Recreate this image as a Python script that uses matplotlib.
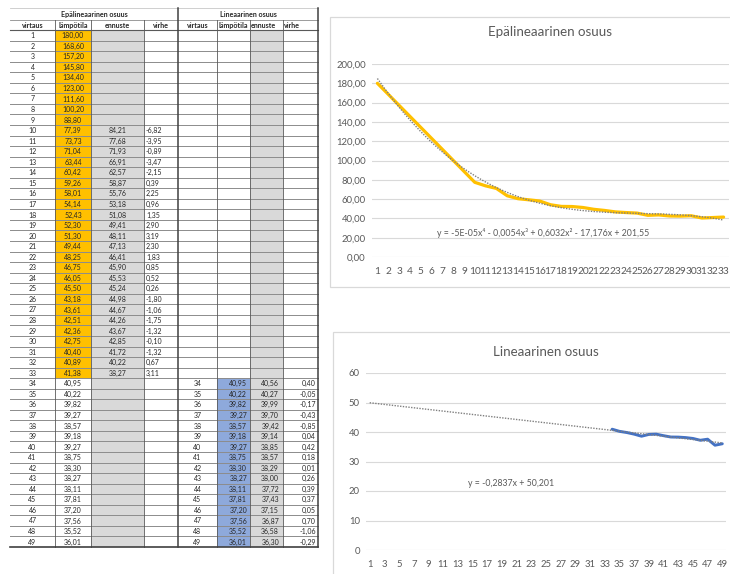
import matplotlib
matplotlib.use("Agg")
import matplotlib.pyplot as plt
from matplotlib.patches import Rectangle
import numpy as np

plt.rcParams['font.family'] = ['Lato', 'DejaVu Sans']

# measured flow / temperature table
virtaus = list(range(1, 50))
lampotila = [180.00, 168.60, 157.20, 145.80, 134.40, 123.00, 111.60, 100.20, 88.80,
             77.39, 73.73, 71.04, 63.44, 60.42, 59.26, 58.01, 54.14, 52.43, 52.30,
             51.30, 49.44, 48.25, 46.75, 46.05, 45.50, 43.18, 43.61, 42.51, 42.36,
             42.75, 40.40, 40.89, 41.38,
             40.95, 40.22, 39.82, 39.27, 38.57, 39.18, 39.27, 38.75, 38.30, 38.27,
             38.11, 37.81, 37.20, 37.56, 35.52, 36.01]
n_epalin = 33   # rows 1..33 belong to the non-linear part

# forecasts and errors, non-linear part (rows 10..33)
ennuste_epalin = [84.21, 77.68, 71.93, 66.91, 62.57, 58.87, 55.76, 53.18, 51.08, 49.41,
                  48.11, 47.13, 46.41, 45.90, 45.53, 45.24, 44.98, 44.67, 44.26, 43.67,
                  42.85, 41.72, 40.22, 38.27]
virhe_epalin = [-6.82, -3.95, -0.89, -3.47, -2.15, 0.39, 2.25, 0.96, 1.35, 2.90,
                3.19, 2.30, 1.83, 0.85, 0.52, 0.26, -1.80, -1.06, -1.75, -1.32,
                -0.10, -1.32, 0.67, 3.11]
ennuste_start = 10

# forecasts and errors, linear part (rows 34..49)
ennuste_lin = [40.56, 40.27, 39.99, 39.70, 39.42, 39.14, 38.85, 38.57, 38.29, 38.00,
               37.72, 37.43, 37.15, 36.87, 36.58, 36.30]
virhe_lin = [0.40, -0.05, -0.17, -0.43, -0.85, 0.04, 0.42, 0.18, 0.01, 0.26,
             0.39, 0.37, 0.05, 0.70, -1.06, -0.29]

# Excel trendline coefficients (highest power first)
poly_coef = [-5e-05, -0.0054, 0.6032, -17.176, 201.55]
lin_coef = [-0.2837, 50.201]
poly_label = "y = -5E-05x\u2074 - 0,0054x\u00b3 + 0,6032x\u00b2 - 17,176x + 201,55"
lin_label = "y = -0,2837x + 50,201"

headers = ["virtaus", "lämpötila", "ennuste", "virhe"]

ORANGE = "#FFC000"
GREY_CELL = "#D9D9D9"
BLUE_CELL = "#8EA9DB"
TXT = "#262626"
AX_TXT = "#595959"
GRID = "#D9D9D9"

W, H = 730, 574


def fi(v):
    return f"{v:.2f}".replace(".", ",")


def px_box(x0, y0, x1, y1):
    return [x0 / W, 1 - y1 / H, (x1 - x0) / W, (y1 - y0) / H]


fig = plt.figure(figsize=(W / 100, H / 100), dpi=100)
bg = fig.add_axes([0, 0, 1, 1])
bg.set_xlim(0, W)
bg.set_ylim(H, 0)
bg.axis("off")

# ---- table -------------------------------------------------------------
cols_l = [10, 55, 91, 144, 178]
cols_r = [178, 217, 250, 283, 318]
top_title, top_head, top_rows = 8, 20, 30
row_h = 10.55
n_rows = len(virtaus)
bottom = top_rows + n_rows * row_h


def row_y(i):
    return top_rows + i * row_h


# cell fills
for i in range(n_rows):
    y = row_y(i)
    bg.add_patch(Rectangle((cols_l[2], y), cols_l[3] - cols_l[2], row_h, fc=GREY_CELL, ec="none"))
    bg.add_patch(Rectangle((cols_r[2], y), cols_r[3] - cols_r[2], row_h, fc=GREY_CELL, ec="none"))
    if i < n_epalin:
        bg.add_patch(Rectangle((cols_l[1], y), cols_l[2] - cols_l[1], row_h, fc=ORANGE, ec="none"))
    else:
        bg.add_patch(Rectangle((cols_r[1], y), cols_r[2] - cols_r[1], row_h, fc=BLUE_CELL, ec="none"))

# grid lines
bg.plot([cols_l[0], cols_r[-1]], [top_title, top_title], color="#C8C8C8", lw=0.6)
bg.plot([cols_l[0], cols_r[-1]], [top_head, top_head], color="#8C8C8C", lw=0.6)
for k in range(1, n_rows):
    y = row_y(k)
    bg.plot([cols_l[0], cols_r[-1]], [y, y], color="#8C8C8C", lw=0.7)
bg.plot([cols_l[0], cols_r[-1]], [top_rows, top_rows], color="#595959", lw=0.8)
for x in cols_l[1:-1] + cols_r[1:-1]:
    bg.plot([x, x], [top_head, bottom], color="#595959", lw=0.6)
for x in (cols_r[0], cols_r[-1]):
    bg.plot([x, x], [top_title, bottom], color="#404040", lw=1.1)
bg.plot([cols_l[0], cols_r[-1]], [bottom, bottom], color="#404040", lw=1.2)

fs_tab = 5.0
fs_head = 5.1
bg.text((cols_l[0] + cols_l[-1]) / 2, (top_title + top_head) / 2 + 0.5, "Epälineaarinen osuus",
        ha="center", va="center", fontsize=fs_head, fontweight="bold", color=TXT)
bg.text((cols_r[0] + cols_r[-1]) / 2, (top_title + top_head) / 2 + 0.5, "Lineaarinen osuus",
        ha="center", va="center", fontsize=fs_head, fontweight="bold", color=TXT)
for cols in (cols_l, cols_r):
    for j, h in enumerate(headers):
        if cols is cols_r and j > 0:
            bg.text(cols[j] + 1.2, (top_head + top_rows) / 2 + 0.5, h, ha="left", va="center",
                    fontsize=fs_head, fontweight="bold", color=TXT)
        else:
            bg.text((cols[j] + cols[j + 1]) / 2, (top_head + top_rows) / 2 + 0.5, h,
                    ha="center", va="center", fontsize=fs_head, fontweight="bold", color=TXT)

for i, v in enumerate(virtaus):
    yc = row_y(i) + row_h / 2 + 0.4
    bg.text((cols_l[0] + cols_l[1]) / 2, yc, str(v), ha="center", va="center", fontsize=fs_tab, color=TXT)
    bg.text((cols_l[1] + cols_l[2]) / 2, yc, fi(lampotila[i]), ha="center", va="center",
            fontsize=fs_tab, color=TXT)
    k = v - ennuste_start
    if 0 <= k < len(ennuste_epalin):
        bg.text((cols_l[2] + cols_l[3]) / 2, yc, fi(ennuste_epalin[k]), ha="center", va="center",
                fontsize=fs_tab, color=TXT)
        bg.text(cols_l[3] + 2, yc, fi(virhe_epalin[k]), ha="left", va="center",
                fontsize=fs_tab, color=TXT)
    k = i - n_epalin
    if k >= 0:
        bg.text((cols_r[0] + cols_r[1]) / 2, yc, str(v), ha="center", va="center", fontsize=fs_tab, color=TXT)
        bg.text(cols_r[2] - 3, yc, fi(lampotila[i]), ha="right", va="center", fontsize=fs_tab, color=TXT)
        bg.text(cols_r[3] - 4, yc, fi(ennuste_lin[k]), ha="right", va="center", fontsize=fs_tab, color=TXT)
        bg.text(cols_r[4] - 2, yc, fi(virhe_lin[k]), ha="right", va="center", fontsize=fs_tab, color=TXT)

# chart frames
bg.add_patch(Rectangle((330, 17), 420, 270, fc="white", ec="#D9D9D9", lw=0.9))
bg.add_patch(Rectangle((333, 332), 420, 260, fc="white", ec="#D9D9D9", lw=0.9))


def style_chart(ax):
    for s in ax.spines.values():
        s.set_visible(False)
    ax.grid(axis="y", color=GRID, lw=0.8)
    ax.set_axisbelow(True)
    ax.tick_params(length=0, colors=AX_TXT, labelsize=6.8)
    ax.tick_params(axis="y", pad=4.5)
    ax.tick_params(axis="x", pad=7)
    ax.set_facecolor("none")


# ---- non-linear chart -------------------------------------------------
x1 = np.array(virtaus[:n_epalin])
y1 = np.array(lampotila[:n_epalin])
ax1 = fig.add_axes(px_box(372, 64, 729, 257))
style_chart(ax1)
ax1.tick_params(axis="x", labelsize=7.3)
ax1.set_xlim(0.5, n_epalin + 0.5)
ax1.set_ylim(0, 200)
ax1.set_yticks(np.arange(0, 201, 20))
ax1.set_yticklabels([fi(t) for t in np.arange(0, 201, 20)])
ax1.set_xticks(x1)
ax1.set_xticklabels([str(v) for v in x1])
ax1.plot(x1, y1, color=ORANGE, lw=2.3, solid_capstyle="round", zorder=3)
xt = np.linspace(1, n_epalin, 200)
ax1.plot(xt, np.polyval(poly_coef, xt), color="#7F7F7F", lw=1.0, ls=(0, (1, 1)), zorder=4)
ax1.text(16.3, 25, poly_label, ha="center", va="center", fontsize=6.3, color=AX_TXT)
ax1.set_title("Epälineaarinen osuus", fontsize=9.6, color=AX_TXT, pad=20)

# ---- linear chart -----------------------------------------------------
x2 = np.array(virtaus[n_epalin:])
y2 = np.array(lampotila[n_epalin:])
ax2 = fig.add_axes(px_box(366, 373, 726, 550))
style_chart(ax2)
ax2.set_xlim(0.5, n_rows + 0.5)
ax2.set_ylim(0, 60)
ax2.set_yticks(np.arange(0, 61, 10))
ax2.set_xticks(virtaus[::2])
ax2.plot(x2, y2, color="#4472C4", lw=2.1, solid_capstyle="round", zorder=3)
xl = np.array([1, n_rows])
ax2.plot(xl, np.polyval(lin_coef, xl), color="#7F7F7F", lw=1.0, ls=(0, (1, 1)), zorder=4)
ax2.text(20.2, 22.4, lin_label, ha="center", va="center", fontsize=6.3, color=AX_TXT)
ax2.set_title("Lineaarinen osuus", fontsize=9.6, color=AX_TXT, pad=12)

fig.savefig("out.png", dpi=100, facecolor="white")
